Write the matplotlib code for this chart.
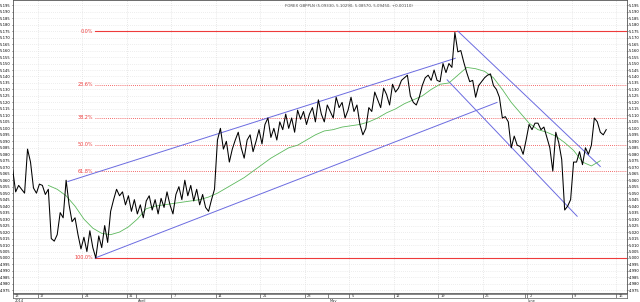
import numpy as np
import matplotlib
matplotlib.use("Agg")
import matplotlib.pyplot as plt

# price samples, three per trading day, first sample 2.8 days before Mon 17 Mar 2014
price = [
    5.068, 5.051, 5.056, 5.053, 5.050, 5.084, 5.074, 5.054, 5.050, 5.057,
    5.056, 5.049, 5.053, 5.015, 5.013, 5.018, 5.035, 5.031, 5.060, 5.041,
    5.028, 5.031, 5.018, 5.007, 5.016, 5.005, 5.021, 5.008, 5.000, 5.017,
    5.008, 5.025, 5.012, 5.036, 5.045, 5.053, 5.048, 5.051, 5.041, 5.048,
    5.036, 5.045, 5.034, 5.041, 5.031, 5.044, 5.048, 5.037, 5.045, 5.034,
    5.046, 5.039, 5.051, 5.041, 5.034, 5.049, 5.055, 5.045, 5.060, 5.048,
    5.056, 5.044, 5.053, 5.041, 5.049, 5.039, 5.036, 5.045, 5.053, 5.091,
    5.100, 5.084, 5.090, 5.074, 5.084, 5.091, 5.097, 5.085, 5.077, 5.091,
    5.095, 5.082, 5.090, 5.099, 5.088, 5.103, 5.108, 5.093, 5.100, 5.091,
    5.105, 5.099, 5.111, 5.100, 5.108, 5.097, 5.114, 5.107, 5.113, 5.103,
    5.111, 5.116, 5.105, 5.122, 5.111, 5.105, 5.118, 5.113, 5.108, 5.124,
    5.116, 5.120, 5.108, 5.114, 5.124, 5.113, 5.118, 5.103, 5.095, 5.100,
    5.116, 5.113, 5.128, 5.122, 5.116, 5.131, 5.126, 5.118, 5.134, 5.128,
    5.131, 5.137, 5.139, 5.141, 5.125, 5.120, 5.118, 5.124, 5.133, 5.139,
    5.141, 5.137, 5.145, 5.137, 5.136, 5.150, 5.143, 5.150, 5.147, 5.174,
    5.159, 5.160, 5.151, 5.143, 5.136, 5.137, 5.124, 5.133, 5.136, 5.139,
    5.141, 5.142, 5.133, 5.130, 5.124, 5.108, 5.109, 5.105, 5.085, 5.094,
    5.087, 5.086, 5.080, 5.091, 5.103, 5.099, 5.104, 5.104, 5.099, 5.101,
    5.093, 5.085, 5.067, 5.097, 5.089, 5.076, 5.037, 5.040, 5.045, 5.074,
    5.074, 5.082, 5.072, 5.085, 5.080, 5.087, 5.108, 5.105, 5.097, 5.095,
    5.099,
]
price_start = -2.8

# moving average, one value per day starting at day 1.2
ma = [
    5.056, 5.053, 5.048, 5.040, 5.030, 5.023, 5.019, 5.018, 5.020, 5.024,
    5.030, 5.038, 5.040, 5.041, 5.042, 5.043, 5.044, 5.045, 5.047, 5.050,
    5.054, 5.058, 5.062, 5.067, 5.072, 5.077, 5.081, 5.085, 5.087, 5.091,
    5.095, 5.098, 5.099, 5.101, 5.102, 5.103, 5.105, 5.108, 5.112, 5.115,
    5.119, 5.122, 5.125, 5.130, 5.134, 5.135, 5.141, 5.147, 5.146, 5.144,
    5.139, 5.130, 5.120, 5.112, 5.104, 5.099, 5.097, 5.094, 5.089, 5.083,
    5.074, 5.071, 5.075,
]
ma_start = 1.2

# trend channels (day, price)
up_upper = [(3.4, 5.059), (46.9, 5.154)]
up_lower = [(6.45, 5.000), (51.6, 5.120)]
dn_upper = [(47.2, 5.175), (63.2, 5.0706)]
dn_lower = [(46.0, 5.1374), (60.6, 5.0322)]

fib_high = 5.175
fib_low = 5.000
fib_pcts = [0.0, 23.6, 38.2, 50.0, 61.8, 100.0]
fib_start = 6.5

week_ticks = [0, 5, 10, 15, 20, 25, 30, 35, 40, 45, 50, 55, 60, 65]
week_labels = ["17", "24", "31", "7", "14", "21", "28", "5", "12", "19", "26", "2", "9", "16"]
month_ticks = [-2.8, 11, 32.6, 54.7]
month_labels = ["2014", "April", "May", "June"]
first_label = "13"

title = "FOREX GBPPLN (5.09330, 5.10290, 5.08570, 5.09450, +0.00110)"

xmin, xmax = -2.8, 66.2
ymin, ymax = 4.973, 5.199

fig = plt.figure(figsize=(6.4, 3.02), dpi=100)
ax = fig.add_axes([12.7 / 640, 9 / 302, (627 - 12.7) / 640, 293 / 302])

blue = "#6b6be0"
red = "#ee3b3b"

# grid
for t in week_ticks:
    ax.axvline(t, color="#d4d4d4", lw=0.5, ls=(0, (1, 2)), zorder=0)
yt = np.arange(4.975, 5.1951, 0.005)
for y in yt:
    ax.axhline(y, color="#dcdcdc", lw=0.5, ls=(0, (1, 2)), zorder=0)

# fibonacci levels
for p in fib_pcts:
    lvl = fib_high - (fib_high - fib_low) * p / 100
    solid = p in (0.0, 100.0)
    ax.plot([fib_start, xmax], [lvl, lvl], color=red, lw=0.8 if solid else 0.6,
            ls="-" if solid else (0, (1, 1.5)), zorder=1.5)
    ax.text(fib_start - 0.3, lvl, f"{p:.1f}%", color=red, fontsize=3.5,
            ha="right", va="center")

# channels
for seg in (up_upper, up_lower, dn_upper, dn_lower):
    xs, ys = zip(*seg)
    ax.plot(xs, ys, color=blue, lw=0.7, zorder=2)

# moving average
ma_t = ma_start + np.arange(len(ma))
ax.plot(ma_t, ma, color="#5cb85c", lw=0.6, zorder=3)

# price
pt = price_start + np.arange(len(price)) / 3
ax.plot(pt, price, color="black", lw=0.75, zorder=4)

ax.set_xlim(xmin, xmax)
ax.set_ylim(ymin, ymax)
ax.set_yticks(yt)
ax.set_yticklabels([f"{v:.3f}" for v in yt])
ax.tick_params(axis="y", labelsize=2.7, length=1, width=0.4, pad=0.3,
               left=True, right=True, labelleft=True, labelright=True)
ax.set_xticks([])
for s in ax.spines.values():
    s.set_linewidth(0.6)
    s.set_color("#555555")

# date strip
ax2 = fig.add_axes([12.7 / 640, 4 / 302, (627 - 12.7) / 640, 4.5 / 302])
ax2.set_xlim(xmin, xmax)
ax2.set_ylim(0, 1)
ax2.set_yticks([])
ax2.set_xticks([])
for s in ax2.spines.values():
    s.set_linewidth(0.5)
    s.set_color("#555555")
for t in week_ticks + month_ticks[1:]:
    ax2.axvline(t, color="#555555", lw=0.5)
for t, lab in zip(week_ticks, week_labels):
    ax2.text(t + 0.25, 0.5, lab, fontsize=2.6, va="center", ha="left", color="#333333")
ax2.text(xmin + 0.25, 0.5, first_label, fontsize=2.6, va="center", ha="left", color="#333333")
for t, lab in zip(month_ticks, month_labels):
    ax2.text(t + 0.25, -0.3, lab, fontsize=2.6, va="top", ha="left", color="#333333",
             clip_on=False)

fig.text(0.545, 0.987, title, fontsize=2.8, ha="center", va="top", color="#444444")

fig.savefig("out.png", dpi=100, facecolor="white")
